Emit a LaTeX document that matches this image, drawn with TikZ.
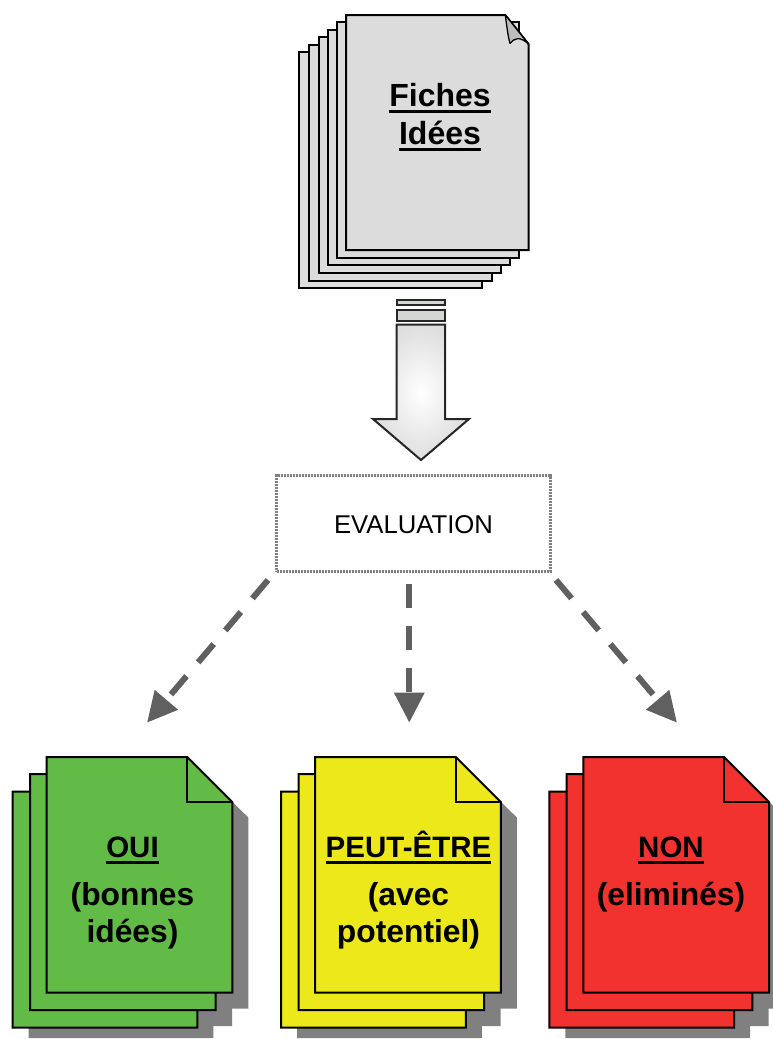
\documentclass[tikz,border=0pt]{standalone}
\usepackage{fontspec}
\setmainfont{Liberation Sans}
\usetikzlibrary{arrows.meta}
\definecolor{sheetgray}{HTML}{DCDCDC}
\definecolor{foldgray}{HTML}{BDBDBD}
\definecolor{barbg}{HTML}{D4D6D4}
\definecolor{shadowgray}{HTML}{808080}
\definecolor{arrowgray}{HTML}{606060}
\definecolor{okgreen}{HTML}{62BB46}
\definecolor{maybeyellow}{HTML}{EDE81A}
\definecolor{nored}{HTML}{F1322E}
\newcommand{\ulbox}[1]{\setbox0\hbox{#1}\rlap{\rule[-6.5pt]{\wd0}{3.2pt}}\box0 }
\newcommand{\headline}[1]{\rule{0pt}{30pt}{\fontsize{29.5}{37}\selectfont\ulbox{#1}}}
\newcommand{\colorstack}[2]{%
  \begin{scope}[xshift=#1]
    \fill[shadowgray] (28.7,807.7) -- (168.5,807.7) -- (213.3,852.7) -- (213.3,1038) -- (28.7,1038) -- cycle;
    \fill[shadowgray] (46,790) -- (186.6,790) -- (232,835) -- (232,1026) -- (46,1026) -- cycle;
    \fill[shadowgray] (62.7,773) -- (203.3,773) -- (248.3,817.5) -- (248.3,1008.7) -- (62.7,1008.7) -- cycle;
    \draw[sheet,fill=#2] (12.7,791.7) -- (152.7,791.7) -- (197.3,836.7) -- (197.3,1027.7) -- (12.7,1027.7) -- cycle;
    \draw[sheet,fill=#2] (30,774) -- (170.6,774) -- (215.7,819) -- (215.7,1010) -- (30,1010) -- cycle;
    \draw[sheet,fill=#2] (46.7,757) -- (187.3,757) -- (232.3,802) -- (232.3,992.7) -- (46.7,992.7) -- cycle;
    \draw[sheet] (187.3,757) -- (187.3,802) -- (232.3,802);
  \end{scope}}
\tikzset{
  x=1pt,y=-1pt,
  sheet/.style={draw=black,line width=2pt,line join=miter},
  graysheet/.style={draw=black,line width=2pt,fill=sheetgray},
  bigbold/.style={font=\bfseries\fontsize{31.8}{37}\selectfont,align=center,inner sep=0pt},
  titlebold/.style={font=\bfseries\fontsize{32}{38}\selectfont,align=center,inner sep=0pt},
  evalbox/.style={draw=shadowgray,line width=3pt,dash pattern=on 2.2pt off 0.8pt,rectangle,inner sep=0pt,
    minimum width=273.3pt,minimum height=96pt},
  decision/.style={draw=arrowgray,line width=6pt,dash pattern=on 24pt off 18pt,
    -{Triangle[length=30pt,width=29pt,fill=arrowgray]}},
  bar/.style={draw=black!85,line width=2pt,fill=barbg},
}
\begin{document}
\begin{tikzpicture}
\useasboundingbox (0,0) rectangle (772,1039);
% top stack
\draw[graysheet] (299,52) rectangle (482,288);
\draw[graysheet] (309,44.7) rectangle (491.5,281);
\draw[graysheet] (318.5,37) rectangle (500.5,273);
\draw[graysheet] (327.5,29.5) rectangle (510,265);
\draw[graysheet] (337,22) rectangle (519,258);
\draw[graysheet] (346,15) -- (505.3,15) -- (528.5,44) -- (528.5,250) -- (346,250) -- cycle;
\draw[draw=black,line width=1.3pt,line join=bevel,fill=foldgray] (505.3,15) .. controls (507,28) and (508,36) .. (510,43.5) .. controls (514,38) and (520,36) .. (528.5,44) -- cycle;
\node[titlebold] (fiches) at (440,117) {\ulbox{Fiches}\\\ulbox{Idées}};
% block arrow
\draw[bar] (396.5,300) rectangle (445,305);
\draw[bar] (396.5,310) rectangle (445,320.5);
\draw[draw=black!85,line width=2pt,inner color=white,outer color=black!13]
  (396.5,324.5) -- (445,324.5) -- (445,419) -- (469,419) -- (421,460) -- (373,419) -- (396.5,419) -- cycle;
% evaluation
\node[evalbox] (eval) at (413.5,523.7) {};
\node[font=\fontsize{25.7}{30}\selectfont,inner sep=0pt] (evallabel) at (413.5,524.5) {EVALUATION};
\coordinate (fromL) at (268,580);
\coordinate (fromM) at (409.3,584);
\coordinate (fromR) at (556,580);
\coordinate (toL) at (147,722.7);
\coordinate (toM) at (409.3,722.7);
\coordinate (toR) at (677,722.7);
\draw[decision] (fromL) -- (toL);
\draw[decision] (fromM) -- (toM);
\draw[decision] (fromR) -- (toR);
% lower stacks
\colorstack{0pt}{okgreen}
\colorstack{268.5pt}{maybeyellow}
\colorstack{536.7pt}{nored}
\node[bigbold,anchor=north] (oui) at (132.5,827) {\headline{OUI}\\[11pt](bonnes\\idées)};
\node[bigbold,anchor=north] (peut) at (408.5,827) {\headline{PEUT-ÊTRE}\\[11pt](avec\\potentiel)};
\node[bigbold,anchor=north] (non) at (671,827) {\headline{NON}\\[11pt](eliminés)};
\end{tikzpicture}
\end{document}
